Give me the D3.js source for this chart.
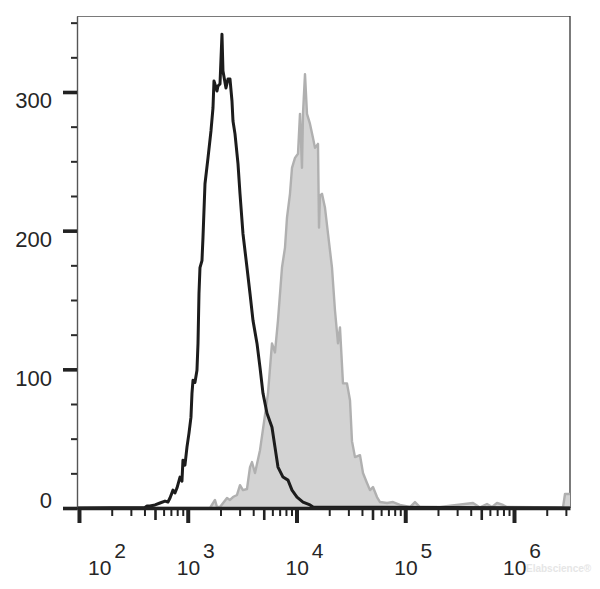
<!DOCTYPE html>
<html><head><meta charset="utf-8">
<script src="https://cdn.jsdelivr.net/npm/d3@7"></script>
<style>
body{margin:0;background:#fff}
svg{display:block}
text{font-family:"Liberation Sans",Arial,Helvetica,sans-serif}
</style>
</head><body>
<svg id="c" width="600" height="589"></svg>
<script>
// ---- data (fluorescence intensity vs. cell count) ----
const controlX = [96,404,422,450,500,556,618,658,687,732,763,796,849,885,904,943,984,1027,1071,1094,1118,1166,1216,1243,1269,1296,1352,1381,1441,1536,1636,1707,1743,1858,1897,1980,2065,2109,2247,2345,2446,2552,2607,2720,2838,2899,3024,3221,3506,3737,3981,4334,4618,4920,5354,5952,6342,6759,7515,8354,9092,10106,11476,13311,14184,3273000];
const controlY = [0,0.4,1.4,1.4,2.2,3.6,5.0,4.3,7.2,12.9,10.8,14.4,22.3,19.4,34.5,30.9,43.9,54.0,65.5,82.7,92.1,90.6,99.3,118.7,154.7,173.4,178.4,195.0,233.8,252.5,271.9,288.5,307.9,300.7,304.3,305.8,341.7,315.1,302.9,309.4,309.4,293.5,279.1,269.8,255.4,248.2,226.6,197.8,173.4,154.7,135.3,118.7,101.4,82.7,68.3,58.3,43.9,29.5,22.3,20.1,12.9,7.9,4.3,2.2,0.7,0];

const stainedX = [96,1602,1781,1858,1980,2296,2446,2607,2838,3024,3221,3506,3737,3897,4154,4618,5132,5470,5952,6342,6759,7357,7841,8179,8713,9092,9688,10323,10769,11235,11476,11973,12491,13311,14184,14796,15767,16105,16450,17163,18290,19489,21205,22594,24077,25119,26764,29131,31046,32385,34514,38362,40881,44491,47420,50514,54980,58590,67950,77170,89490,110600,122900,136600,208700,419800,486900,564600,627900,697900,792400,862000,2822000,2944000,3273000];
const stainedY = [0,0,5.8,0.7,0.7,7.2,5.8,7.9,9.4,16.5,12.9,13.7,29.5,33.1,25.2,41.7,66.9,82.7,118.7,112.2,135.3,173.4,187.8,209.4,226.6,245.3,252.5,255.4,284.2,245.3,284.2,312.9,284.2,277,266.9,259.7,262.6,202.2,225.2,226.6,216.5,197.8,173.4,142.4,118.7,130.2,89.9,89.9,77.7,48.2,36.7,38.1,25.2,18,12.9,15.1,7.9,4.3,3.6,4.3,2.2,0.7,4.3,0.7,0.7,3.6,0.4,2.9,0.7,3.6,2.2,0.7,0.4,10.1,10.1];

const xDomain = [95.9, 3273000];
const yDomain = [0, 354.8];

const xMajorTicks = [1e2, 1e3, 1e4, 1e5, 1e6];
const xMidTicks = [5e2, 5e3, 5e4, 5e5];
const xMinorTicks = [2e2,3e2,4e2,6e2,7e2,8e2,9e2, 2e3,3e3,4e3,6e3,7e3,8e3,9e3, 2e4,3e4,4e4,6e4,7e4,8e4,9e4, 2e5,3e5,4e5,6e5,7e5,8e5,9e5, 2e6,3e6];
const xTickExponents = ["2","3","4","5","6"];

const yMajorTicks = [0, 100, 200, 300];
const yMinorTicks = [25,50,75,125,150,175,225,250,275,325,350];
const yTickLabels = ["0","100","200","300"];

// ---- chart ----
const svg = d3.select("#c");
const x = d3.scaleLog().domain(xDomain).range([77, 570]);
const y = d3.scaleLinear().domain(yDomain).range([508, 16]);

const [xl, xr] = x.range();
const [yb, yt] = y.range();

// frame (top & right)
svg.append("line").attr("x1", xl).attr("x2", xr).attr("y1", yt + 0.5).attr("y2", yt + 0.5)
  .attr("stroke", "#7a7a7a").attr("stroke-width", 1.2);
svg.append("line").attr("x1", xr).attr("x2", xr).attr("y1", yt).attr("y2", yb)
  .attr("stroke", "#333").attr("stroke-width", 1.3);

const stained = stainedX.map((v, i) => [v, stainedY[i]]);
const control = controlX.map((v, i) => [v, controlY[i]]);

svg.append("path").datum(stained)
  .attr("d", d3.area().x(d => x(d[0])).y0(y(0)).y1(d => y(d[1])))
  .attr("fill", "#d3d3d3");
svg.append("path").datum(stained)
  .attr("d", d3.line().x(d => x(d[0])).y(d => y(d[1])))
  .attr("fill", "none").attr("stroke", "#b0b0b0").attr("stroke-width", 2.4).attr("stroke-linejoin", "round");

svg.append("path").datum(control)
  .attr("d", d3.line().x(d => x(d[0])).y(d => y(d[1])))
  .attr("fill", "none").attr("stroke", "#1c1c1c").attr("stroke-width", 3).attr("stroke-linejoin", "round");

function addAxis(axis, transform, width, color, keepDomain) {
  const g = svg.append("g").attr("transform", transform).call(axis);
  g.selectAll(".tick text").remove();
  g.selectAll(".tick line").attr("stroke", color).attr("stroke-width", width);
  if (keepDomain) g.select(".domain").attr("stroke", keepDomain.color).attr("stroke-width", keepDomain.width);
  else g.select(".domain").remove();
  return g;
}

// y axis
addAxis(d3.axisLeft(y).tickValues(yMinorTicks).tickSize(6).tickSizeOuter(0).tickFormat(""),
  `translate(${xl},0)`, 2, "#2a2a2a", {color: "#555", width: 1.4});
addAxis(d3.axisLeft(y).tickValues(yMajorTicks).tickSize(14).tickFormat(""),
  `translate(${xl},0)`, 3.6, "#222", null);

// x axis
addAxis(d3.axisBottom(x).tickValues(xMinorTicks).tickSize(8).tickFormat(""),
  `translate(0,${yb})`, 2, "#222", null);
addAxis(d3.axisBottom(x).tickValues(xMidTicks).tickSize(12).tickFormat(""),
  `translate(0,${yb})`, 2.6, "#222", null);
addAxis(d3.axisBottom(x).tickValues(xMajorTicks).tickSize(15).tickSizeOuter(0).tickFormat(""),
  `translate(0,${yb})`, 4, "#222", {color: "#222", width: 3.6});

// y labels
svg.append("g").selectAll("text").data(yMajorTicks).join("text")
  .attr("x", 52)
  .attr("y", d => y(d) + (d === 0 ? 0 : 16.5))
  .attr("text-anchor", "end")
  .attr("font-size", 22)
  .attr("fill", "#262626")
  .text((d, i) => yTickLabels[i]);

// x labels (10^n)
const xl2 = svg.append("g").selectAll("text").data(xMajorTicks).join("text")
  .attr("x", d => Math.max(x(d) - 11, 88))
  .attr("y", 575)
  .attr("font-size", 21)
  .attr("fill", "#262626");
xl2.append("tspan").text("10");
xl2.append("tspan").attr("dx", 3).attr("dy", -17).text((d, i) => xTickExponents[i]);

// watermark
svg.append("text").attr("x", 526).attr("y", 572)
  .attr("font-size", 10).attr("font-weight", "bold")
  .attr("fill", "#e6e6e6")
  .text("Elabscience®");
</script>
</body></html>
